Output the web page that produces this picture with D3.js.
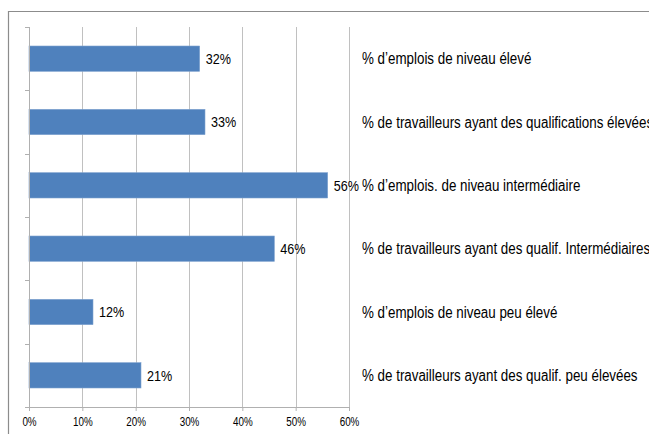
<!DOCTYPE html>
<html>
<head>
<meta charset="utf-8">
<script src="https://cdn.jsdelivr.net/npm/d3@7"></script>
<style>
  body { margin: 0; background: #fff; }
  text { font-family: "Liberation Sans Narrow", "Arial Narrow", "Liberation Sans", sans-serif; fill: #000; }
</style>
</head>
<body>
<div id="chart"></div>
<script>
const categories = [
  "% d\u2019emplois de niveau élevé",
  "% de travailleurs ayant des qualifications élevées",
  "% d\u2019emplois. de niveau intermédiaire",
  "% de travailleurs ayant des qualif. Intermédiaires",
  "% d\u2019emplois de niveau peu élevé",
  "% de travailleurs ayant des qualif. peu élevées"
];
const values = [32, 33, 56, 46, 12, 21];
const ticks = [0, 10, 20, 30, 40, 50, 60];

const width = 649, height = 434;
const svg = d3.select("#chart").append("svg")
  .attr("width", width).attr("height", height);

// narrow look: squeeze regular sans glyphs horizontally
function narrow(sel, k = 0.82) {
  sel.each(function() {
    const w = this.getComputedTextLength();
    d3.select(this).attr("textLength", w * k).attr("lengthAdjust", "spacingAndGlyphs");
  });
}

// chart frame (runs off the right and bottom edges)
svg.append("path")
  .attr("d", "M8.5,440 V11.5 H660")
  .attr("fill", "none").attr("stroke", "#8c8c8c").attr("stroke-width", 1.2);

const x = d3.scaleLinear().domain([0, 60]).range([29, 349]);
const y = d3.scaleBand().domain(categories).range([27, 407]).paddingInner(0.6).paddingOuter(0.3);

// vertical gridlines
svg.append("g").selectAll("line")
  .data(ticks.slice(1))
  .join("line")
  .attr("x1", d => Math.round(x(d)) + 0.5).attr("x2", d => Math.round(x(d)) + 0.5)
  .attr("y1", 27).attr("y2", 407)
  .attr("stroke", "#c0c0c0");

// bars
svg.append("g").selectAll("rect")
  .data(values)
  .join("rect")
  .attr("x", x(0))
  .attr("y", (d, i) => y(categories[i]))
  .attr("width", d => x(d) - x(0))
  .attr("height", y.bandwidth())
  .attr("fill", "#4f81bd")
  .attr("stroke", "#7fa3d0").attr("stroke-width", 0.6);

// value labels
svg.append("g").selectAll("text")
  .data(values)
  .join("text")
  .attr("x", d => x(d) + 6)
  .attr("y", (d, i) => y(categories[i]) + y.bandwidth() / 2)
  .attr("dy", "0.36em")
  .attr("font-size", 15)
  .text(d => d + "%")
  .call(narrow, 0.84);

// category labels on the right
svg.append("g").selectAll("text")
  .data(categories)
  .join("text")
  .attr("x", 362)
  .attr("y", d => y(d) + y.bandwidth() / 2)
  .attr("dy", "0.36em")
  .attr("font-size", 16)
  .text(d => d)
  .call(narrow, 0.835);

// left axis: line with ticks at band boundaries
const bounds = d3.range(categories.length + 1).map(i => 27 + i * (380 / categories.length));
svg.append("line")
  .attr("x1", 29.5).attr("x2", 29.5).attr("y1", 27).attr("y2", 407)
  .attr("stroke", "#b0b0b0");
svg.append("g").selectAll("line")
  .data(bounds)
  .join("line")
  .attr("x1", 25).attr("x2", 29)
  .attr("y1", d => Math.round(d) + 0.5).attr("y2", d => Math.round(d) + 0.5)
  .attr("stroke", "#b0b0b0");

// bottom axis
const xAxis = svg.append("g")
  .attr("transform", "translate(0,407)")
  .call(d3.axisBottom(x).tickValues(ticks).tickFormat(d => d + "%").tickSize(4).tickPadding(6));
xAxis.select(".domain").attr("d", "M25,0.5H349").attr("stroke", "#b0b0b0");
xAxis.selectAll(".tick line").attr("stroke", "#b0b0b0");
xAxis.selectAll(".tick text").attr("font-size", 12).attr("font-family", null).attr("fill", "#000").call(narrow);
</script>
</body>
</html>
